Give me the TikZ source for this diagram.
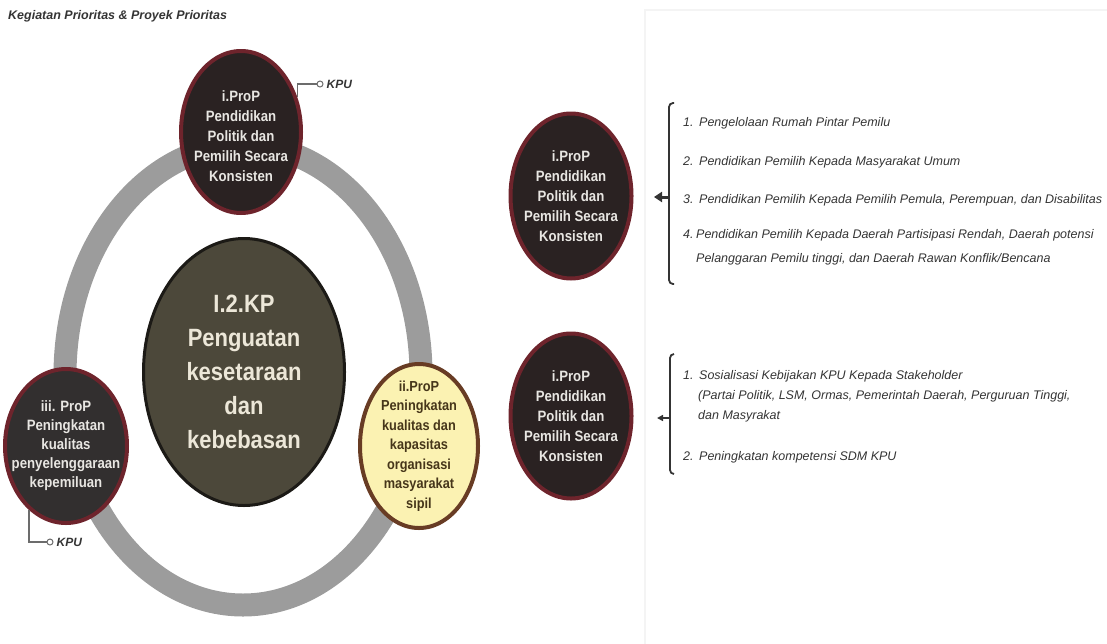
\documentclass[tikz,border=0pt]{standalone}
\usepackage{fontspec}
\setmainfont{Liberation Sans}
\newfontfamily\condfont{Liberation Sans}[FakeStretch=0.88]
\usetikzlibrary{arrows.meta,positioning,shapes.geometric}
\definecolor{ringgray}{RGB}{156,156,156}
\definecolor{propfill}{RGB}{42,34,34}
\definecolor{leftfill}{RGB}{50,47,47}
\definecolor{propline}{RGB}{110,36,44}
\definecolor{corefill}{RGB}{76,72,58}
\definecolor{coreline}{RGB}{28,26,22}
\definecolor{coretext}{RGB}{236,231,216}
\definecolor{yelfill}{RGB}{251,242,178}
\definecolor{yelline}{RGB}{104,60,36}
\definecolor{yeltext}{RGB}{70,54,26}
\definecolor{lighttext}{RGB}{232,230,226}
\definecolor{listtext}{RGB}{52,52,52}
\definecolor{panelline}{RGB}{244,244,244}
\newcommand{\itemnum}[2][16pt]{\makebox[#1][l]{#2}}

\begin{document}
\begin{tikzpicture}[x=1pt,y=-1pt,
    prop/.style={ellipse,draw=propline,line width=4pt,fill=propfill,inner sep=0pt},
    proptext/.style={align=center,inner sep=0pt,text=lighttext,
      font=\condfont\bfseries\fontsize{15}{20}\selectfont},
    core/.style={ellipse,draw=coreline,line width=3pt,fill=corefill,inner sep=0pt},
    coretxt/.style={align=center,inner sep=0pt,text=coretext,
      font=\condfont\bfseries\fontsize{25}{34}\selectfont},
    listitem/.style={anchor=west,align=left,inner sep=0pt,text=listtext,
      font=\itshape\fontsize{12.5}{20}\selectfont},
    kpudot/.style={circle,draw=gray!85!black,fill=white,line width=1pt,inner sep=0pt,minimum size=6pt},
    kpulabel/.style={inner sep=0pt,text=listtext,font=\bfseries\itshape\fontsize{12}{14}\selectfont},
    kpulink/.style={draw=gray!85!black,line width=1.3pt},
    bracket/.style={draw=listtext,line width=1.8pt,rounded corners=4pt},
  ]
  \useasboundingbox (0,0) rectangle (1107,643);
  \draw[panelline,line width=1.5pt] (645,10) rectangle (1115,650);

  \node[anchor=west,inner sep=0pt,text=listtext,font=\bfseries\itshape\fontsize{12.5}{15}\selectfont]
    (title) at (8,16) {Kegiatan Prioritas \& Proyek Prioritas};

  % ring and the four ellipses
  \draw[ringgray,line width=23pt] (243,375) ellipse [x radius=178,y radius=230];

  \node[prop,minimum width=120pt,minimum height=162pt] (topProP) at (241,132) {};
  \node[proptext] (topProPtxt) at ([yshift=-4pt]topProP.center) {i.ProP\\Pendidikan\\Politik dan\\Pemilih Secara\\Konsisten};

  \node[core,minimum width=201pt,minimum height=267pt] (coreKP) at (244,372) {};
  \node[coretxt] (coreKPtxt) at (coreKP.center) {I.2.KP\\Penguatan\\kesetaraan\\dan\\kebebasan};

  \node[prop,fill=leftfill,minimum width=122pt,minimum height=154pt] (leftProP) at (66,446) {};
  \node[proptext,font=\condfont\bfseries\fontsize{15}{19}\selectfont] (leftProPtxt) at (leftProP.center)
    {iii. ProP\\Peningkatan\\kualitas\\penyelenggaraan\\kepemiluan};

  \node[prop,draw=yelline,fill=yelfill,minimum width=118pt,minimum height=164pt] (rightProP) at (419,446) {};
  \node[proptext,text=yeltext,font=\condfont\bfseries\fontsize{14.5}{19.5}\selectfont] (rightProPtxt) at (rightProP.center)
    {ii.ProP\\Peningkatan\\kualitas dan\\kapasitas\\organisasi\\masyarakat\\sipil};

  % KPU tags
  \node[kpudot] (kpuDotA) at (320,84) {};
  \node[kpulabel,right=3pt of kpuDotA] (kpuA) {KPU};
  \draw[kpulink] (topProP.32) |- (kpuDotA);
  \node[kpudot] (kpuDotB) at (50,542) {};
  \node[kpulabel,right=3pt of kpuDotB] (kpuB) {KPU};
  \draw[kpulink] (leftProP.240) |- (kpuDotB);

  % right panel, first group
  \node[prop,minimum width=121pt,minimum height=165pt] (propA) at (571,196) {};
  \node[proptext] (propAtxt) at (propA.center) {i.ProP\\Pendidikan\\Politik dan\\Pemilih Secara\\Konsisten};
  \draw[bracket] (674,103) -- (669,103) -- (669,284) -- (674,284);
  \coordinate (brA) at (669,197);
  \coordinate (brAtip) at (654,197);
  \draw[listtext,line width=3pt,-{Triangle[length=8pt,width=10pt]}] (brA) -- (brAtip);
  \node[listitem] (itemA1) at (683,123) {\itemnum{1.}Pengelolaan Rumah Pintar Pemilu};
  \node[listitem] (itemA2) at (683,162) {\itemnum{2.}Pendidikan Pemilih Kepada Masyarakat Umum};
  \node[listitem] (itemA3) at (683,200) {\itemnum{3.}Pendidikan Pemilih Kepada Pemilih Pemula, Perempuan, dan Disabilitas};
  \node[listitem,font=\itshape\fontsize{12.5}{24}\selectfont] (itemA4) at (683,247)
    {\itemnum[13pt]{4.}Pendidikan Pemilih Kepada Daerah Partisipasi Rendah, Daerah potensi\\
     \hspace*{13pt}Pelanggaran Pemilu tinggi, dan Daerah Rawan Konflik/Bencana};

  % right panel, second group
  \node[prop,minimum width=121pt,minimum height=165pt] (propB) at (571,416) {};
  \node[proptext] (propBtxt) at (propB.center) {i.ProP\\Pendidikan\\Politik dan\\Pemilih Secara\\Konsisten};
  \draw[bracket] (674,354) -- (670,354) -- (670,474) -- (674,474);
  \coordinate (brB) at (670,418);
  \coordinate (brBtip) at (657,418);
  \draw[listtext,line width=1.6pt,-{Triangle[length=6pt,width=6pt]}] (brB) -- (brBtip);
  \node[listitem] (itemB1) at (683,396)
    {\itemnum{1.}Sosialisasi Kebijakan KPU Kepada Stakeholder\\
     \hspace*{15pt}(Partai Politik, LSM, Ormas, Pemerintah Daerah, Perguruan Tinggi,\\
     \hspace*{15pt}dan Masyrakat};
  \node[listitem] (itemB2) at (683,457) {\itemnum{2.}Peningkatan kompetensi SDM KPU};
\end{tikzpicture}
\end{document}
